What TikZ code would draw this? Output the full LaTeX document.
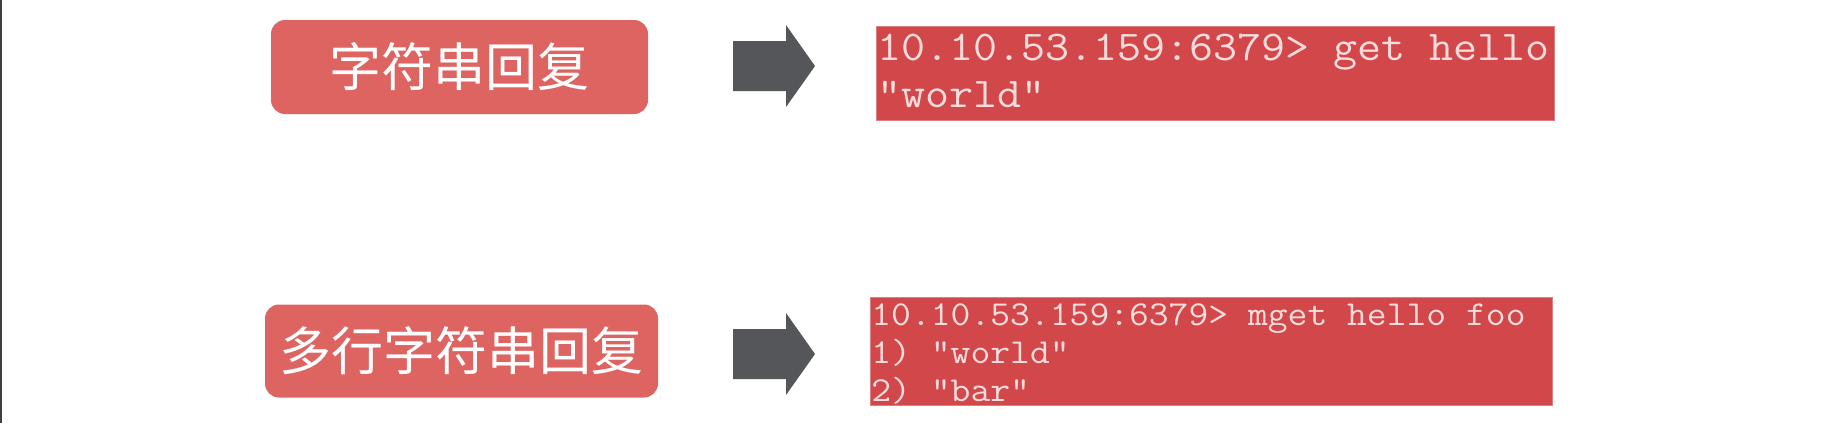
\documentclass[tikz,border=0pt]{standalone}
\usepackage{fontspec}
\usepackage{graphicx}
\newfontfamily\cjk{Noto Sans CJK SC}
\usetikzlibrary{positioning}
\definecolor{labelred}{HTML}{DE6461}
\definecolor{codered}{HTML}{D1474A}
\definecolor{arrowgray}{HTML}{55565A}
\definecolor{codetext}{HTML}{F8DCDC}
\newcommand{\wideline}[1]{\scalebox{1.1}[1]{#1}}
\tikzset{
	replylabel/.style={rounded corners=7pt, fill=labelred, text=white, inner sep=0pt,
		font=\cjk\fontsize{26}{30}\selectfont},
	codebox/.style={fill=codered, draw=codered!70!white, line width=0.5pt, inner sep=0pt, anchor=north west},
	codeline/.style={text=codetext, inner sep=0pt, anchor=base west},
}
\begin{document}
\begin{tikzpicture}[x=0.5pt,y=-0.5pt]
			\useasboundingbox[fill=white] (0,0) rectangle (1846,423);
			\draw[line width=1pt, black!75] (1,0) -- (1,423);

			% reply type labels
			\node[replylabel, minimum width=188.5pt, minimum height=47pt] (single) at (459.5,67) {字符串回复};
			\node[replylabel, minimum width=196.5pt, minimum height=46.5pt] (multi) at (461.5,351) {多行字符串回复};

			% block arrows
			\foreach \y in {66,354} \fill[arrowgray] (733,\y-25) -- (786,\y-25) -- (786,\y-41) -- (815,\y)
				-- (786,\y+41) -- (786,\y+25) -- (733,\y+25) -- cycle;

			% terminal output
			\node[codebox, minimum width=339pt, minimum height=47pt] (getbox) at (876,26) {};
			\node[codebox, minimum width=341pt, minimum height=54pt] (mgetbox) at (870,297) {};

			\foreach \t [count=\i] in {10.10.53.159:6379> get hello, "world"}
				\node[codeline, font=\ttfamily\fontsize{21.2}{26}\selectfont] (get\i) at (877,{60+47*(\i-1)}) {\wideline{\t}};
			\foreach \t [count=\i] in {10.10.53.159:6379> mget hello foo, 1) "world", 2) "bar"}
				\node[codeline, font=\ttfamily\fontsize{17.5}{22}\selectfont] (mget\i) at (871,{325+38*(\i-1)}) {\wideline{\t}};
\end{tikzpicture}
\end{document}
